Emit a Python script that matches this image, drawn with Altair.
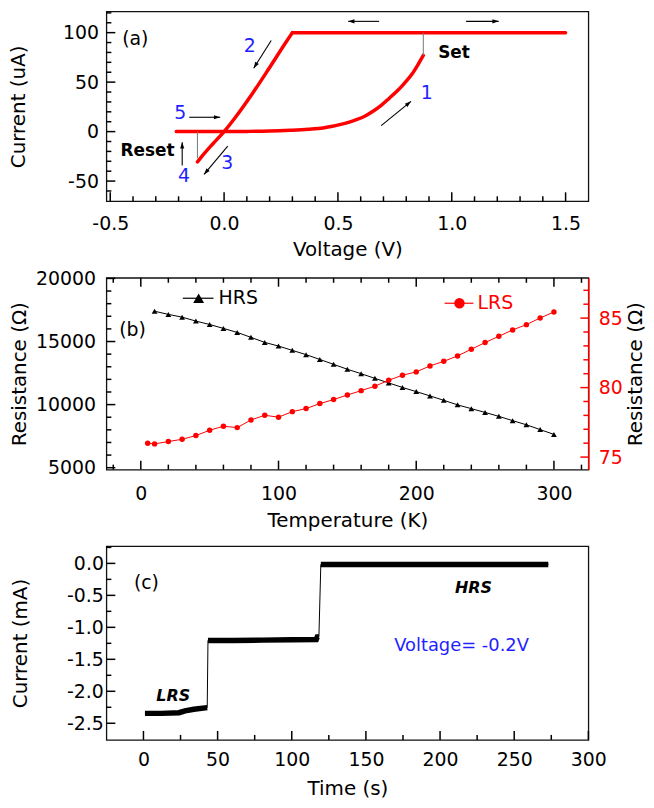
import math
import altair as alt
import pandas as pd

FONT = "DejaVu Sans"
RED = "#ff0000"
BLUE = "#1f1fff"
W = 485
HA, HB, HC = 191, 193, 195

XA = [-0.517, 1.6]
YA = [-70.4, 121.4]
XB = [-25, 325]
YBL = [4850, 20050]
YBR = [74.1, 87.9]
XC = [-25, 300]
YC = [-2.76, 0.27]

# ---------------- panel (a) data ----------------
a_hrs_v = [-0.21, -0.1, 0.0, 0.1, 0.2, 0.29, 0.37, 0.435, 0.47, 0.508, 0.55, 0.581, 0.62,
           0.654, 0.69, 0.727, 0.76, 0.785, 0.80, 0.828, 0.85, 0.875]
a_hrs_i = [0.0, 0.0, 0.0, 0.2, 0.6, 1.4, 2.4, 3.7, 5.1, 7.0, 9.6, 12.0, 15.8,
           20.5, 26.5, 34.0, 41.0, 47.0, 51.0, 59.0, 67.0, 77.0]
a_cc_v = [0.30, 1.50]
a_cc_i = [100.0, 100.0]
a_lrs_v = [0.30, 0.268, 0.195, 0.123, 0.05, 0.0, -0.052, -0.103, -0.117]
a_lrs_i = [100.0, 89.0, 63.0, 38.0, 14.5, 0.0, -13.0, -26.5, -30.5]
a_set_v = [0.875, 0.875]
a_set_i = [77.0, 100.0]
a_reset_v = [-0.117, -0.117]
a_reset_i = [-27.0, 0.0]

a_arrow_x1 = [0.681, 1.063, 0.207, 0.690, -0.153, 0.016, -0.184]
a_arrow_y1 = [111.4, 111.4, 92.0, 6.0, 14.5, -14.7, -34.2]
a_arrow_x2 = [0.545, 1.206, 0.130, 0.821, -0.017, -0.088, -0.184]
a_arrow_y2 = [111.4, 111.4, 64.0, 30.6, 14.5, -43.3, -10.7]

a_num_text = ["1", "2", "3", "4", "5"]
a_num_v = [0.89, 0.113, 0.0135, -0.176, -0.193]
a_num_i = [39.0, 86.5, -31.5, -44.9, 18.8]
a_bold_text = ["Set", "Reset"]
a_bold_v = [1.01, -0.336]
a_bold_i = [79.2, -19.7]

a_x_major = [-0.5, 0.0, 0.5, 1.0, 1.5]
a_x_minor = [-0.4, -0.3, -0.2, -0.1, 0.1, 0.2, 0.3, 0.4, 0.6, 0.7, 0.8, 0.9, 1.1, 1.2, 1.3, 1.4]
a_y_major = [-50, 0, 50, 100]
a_y_minor = [-60, -40, -30, -20, -10, 10, 20, 30, 40, 60, 70, 80, 90, 110, 120]

# ---------------- panel (b) data ----------------
b_t_hrs = [10, 20, 30, 40, 50, 60, 70, 80, 90, 100, 110, 120, 130, 140, 150,
           160, 170, 180, 190, 200, 210, 220, 230, 240, 250, 260, 270, 280, 290, 300]
b_hrs = [17400, 17150, 16930, 16620, 16350, 16040, 15720, 15330, 14930, 14640,
         14300, 13960, 13580, 13190, 12800, 12450, 12080, 11720, 11360, 11030,
         10690, 10340, 9980, 9680, 9380, 9070, 8730, 8400, 8020, 7640]
b_t_lrs = [5, 10, 20, 30, 40, 50, 60, 70, 80, 90, 100, 110, 120, 130, 140, 150,
           160, 170, 180, 190, 200, 210, 220, 230, 240, 250, 260, 270, 280, 290, 300]
b_lrs = [76.0, 75.95, 76.12, 76.28, 76.55, 76.93, 77.22, 77.12, 77.67, 78.01, 77.87,
         78.27, 78.49, 78.85, 79.14, 79.47, 79.78, 80.10, 80.53, 80.89, 81.13,
         81.56, 81.89, 82.28, 82.76, 83.24, 83.69, 84.15, 84.53, 85.01, 85.44]

b_x_major = [0, 100, 200, 300]
b_x_minor = [-20, 20, 40, 60, 80, 120, 140, 160, 180, 220, 240, 260, 280, 320]
b_yl_major = [5000, 10000, 15000, 20000]
b_yl_minor = [6000, 7000, 8000, 9000, 11000, 12000, 13000, 14000, 16000, 17000, 18000, 19000]
b_yr_major = [75, 80, 85]
b_yr_minor = [76, 77, 78, 79, 81, 82, 83, 84, 86, 87]

# ---------------- panel (c) data ----------------
c_lrs_t = [1, 12, 24, 28, 34, 43]
c_lrs_i = [-2.345, -2.345, -2.335, -2.305, -2.28, -2.255]
c_mid_t = [43.5, 60, 80, 100, 116.5, 117.2, 118.3]
c_mid_i = [-1.205, -1.205, -1.20, -1.195, -1.19, -1.15, -1.15]
c_hrs_t = [119.6, 150, 200, 250, 273]
c_hrs_i = [-0.018, -0.018, -0.016, -0.016, -0.018]

c_x_major = [0, 50, 100, 150, 200, 250, 300]
c_x_minor = [25, 75, 125, 175, 225, 275]
c_y_major = [0.0, -0.5, -1.0, -1.5, -2.0, -2.5]
c_y_minor = [0.25, -0.25, -0.75, -1.25, -1.75, -2.25]

HEAD = "M0,0L-0.6,1.8L0.6,1.8Z"
MAJ, MIN = 9, 5


def ex(dom, axis=None, field="x"):
    return alt.X(f"{field}:Q", scale=alt.Scale(domain=dom, nice=False, zero=False), axis=axis)


def ey(dom, axis=None, field="y"):
    return alt.Y(f"{field}:Q", scale=alt.Scale(domain=dom, nice=False, zero=False), axis=axis)


def tick_layer(xdom, ydom, w, h, specs, color="black", sw=1.5):
    """Inward tick marks as short rules placed through the panel's scales."""
    x1s, y1s, x2s, y2s = [], [], [], []
    for vals, side, size in specs:
        for v in vals:
            if side in ("bottom", "top"):
                ln = size * (ydom[1] - ydom[0]) / h
                y0 = ydom[0] if side == "bottom" else ydom[1]
                y1 = y0 + ln if side == "bottom" else y0 - ln
                x1s.append(v); x2s.append(v); y1s.append(y0); y2s.append(y1)
            else:
                ln = size * (xdom[1] - xdom[0]) / w
                x0 = xdom[0] if side == "left" else xdom[1]
                x1 = x0 + ln if side == "left" else x0 - ln
                x1s.append(x0); x2s.append(x1); y1s.append(v); y2s.append(v)
    df = pd.DataFrame({"x": x1s, "y": y1s, "x2": x2s, "y2": y2s})
    return alt.Chart(df).mark_rule(color=color, strokeWidth=sw, opacity=1).encode(
        x=ex(xdom), y=ey(ydom), x2="x2:Q", y2="y2:Q")


def segs_df(segs):
    rows = []
    for name, xs, ys in segs:
        for xv, yv in zip(xs, ys):
            rows.append({"seg": name, "x": xv, "y": yv})
    return pd.DataFrame(rows)


def text_layer(texts, xs, ys, xdom, ydom, **kw):
    df = pd.DataFrame({"t": texts, "x": xs, "y": ys})
    return alt.Chart(df).mark_text(font=FONT, **kw).encode(x=ex(xdom), y=ey(ydom), text="t:N")


def finish(layers, w, h):
    return (alt.layer(*layers)
            .resolve_scale(x="independent", y="independent")
            .resolve_axis(x="independent", y="independent")
            .properties(width=w, height=h))


def main_axis(vals, fmt, orient, lpad, title, tpad, **kw):
    return alt.Axis(values=vals, format=fmt, orient=orient, ticks=False, tickSize=0,
                    domain=False, grid=False, labelPadding=lpad, labelFlush=False,
                    labelOverlap=False, title=title, titlePadding=tpad, **kw)


# ================= panel (a) =================
ax_a_x = main_axis(a_x_major, ".1f", "bottom", 13, "Voltage (V)", 7)
ax_a_y = main_axis(a_y_major, "d", "left", 8, "Current (uA)", 34)

df_red = segs_df([("hrs", a_hrs_v, a_hrs_i), ("cc", a_cc_v, a_cc_i), ("lrs", a_lrs_v, a_lrs_i)])
df_thin = segs_df([("set", a_set_v, a_set_i), ("reset", a_reset_v, a_reset_i)])

a_ticks = tick_layer(XA, YA, W, HA, [(a_x_major, "bottom", MAJ), (a_x_minor, "bottom", MIN),
                                     (a_y_major, "left", MAJ), (a_y_minor, "left", MIN)])
a_red = alt.Chart(df_red).mark_line(color=RED, strokeWidth=3.5, interpolate="monotone",
                                    strokeCap="round").encode(
    x=ex(XA, ax_a_x), y=ey(YA, ax_a_y), detail="seg:N")
a_thin = alt.Chart(df_thin).mark_line(color="#777777", strokeWidth=1).encode(
    x=ex(XA), y=ey(YA), detail="seg:N")

kx = W / (XA[1] - XA[0])
ky = HA / (YA[1] - YA[0])
a_ang = [math.degrees(math.atan2((x2 - x1) * kx, (y2 - y1) * ky)) % 360
         for x1, y1, x2, y2 in zip(a_arrow_x1, a_arrow_y1, a_arrow_x2, a_arrow_y2)]
df_arr = pd.DataFrame({"x": a_arrow_x1, "y": a_arrow_y1, "x2": a_arrow_x2, "y2": a_arrow_y2,
                       "ang": a_ang})
a_arrows = alt.Chart(df_arr).mark_rule(color="black", strokeWidth=1.1).encode(
    x=ex(XA), y=ey(YA), x2="x2:Q", y2="y2:Q")
a_heads = alt.Chart(df_arr).mark_point(shape=HEAD, filled=True, color="black", opacity=1,
                                       size=49, strokeWidth=0).encode(
    x=ex(XA, None, "x2"), y=ey(YA, None, "y2"), angle=alt.Angle("ang:Q", scale=None))
a_nums = text_layer(a_num_text, a_num_v, a_num_i, XA, YA, fontSize=19, color=BLUE,
                    align="center", baseline="middle")
a_bold = text_layer(a_bold_text, a_bold_v, a_bold_i, XA, YA, fontSize=17, fontWeight="bold",
                    color="black", align="center", baseline="middle")
a_lab = text_layer(["(a)"], [-0.39], [93.3], XA, YA, fontSize=19, color="black",
                   align="center", baseline="middle")

pa = finish([a_red, a_thin, a_arrows, a_heads, a_nums, a_bold, a_lab, a_ticks], W, HA)

# ================= panel (b) =================
ax_b_x = main_axis(b_x_major, "d", "bottom", 15, "Temperature (K)", 7)
ax_b_yl = main_axis(b_yl_major, "d", "left", 11, "Resistance (\u03a9)", 6)
ax_b_yr = alt.Axis(values=b_yr_major, format="d", orient="right", ticks=False, tickSize=0,
                   domain=True, domainColor=RED, domainWidth=1.5, grid=False,
                   labelPadding=10, labelFlush=False, labelColor=RED,
                   title="Resistance (\u03a9)", titlePadding=3, titleAngle=270,
                   titleBaseline="top")

df_hrs = pd.DataFrame({"x": b_t_hrs, "y": b_hrs})
df_lrs = pd.DataFrame({"x": b_t_lrs, "y": b_lrs})

b_ticks_l = tick_layer(XB, YBL, W, HB, [(b_x_major, "bottom", MAJ), (b_x_minor, "bottom", MIN),
                                       (b_x_major, "top", MAJ), (b_x_minor, "top", MIN),
                                       (b_yl_major, "left", MAJ), (b_yl_minor, "left", MIN)])
b_ticks_r = tick_layer(XB, YBR, W, HB, [(b_yr_major, "right", MAJ - 1),
                                       (b_yr_minor, "right", MIN)], color=RED)
b_hrs_line = alt.Chart(df_hrs).mark_line(color="black", strokeWidth=1).encode(
    x=ex(XB, ax_b_x), y=ey(YBL, ax_b_yl))
b_hrs_pts = alt.Chart(df_hrs).mark_point(shape="triangle-up", filled=True, color="black",
                                         opacity=1, size=34).encode(x=ex(XB), y=ey(YBL))
b_lrs_line = alt.Chart(df_lrs).mark_line(color=RED, strokeWidth=1).encode(
    x=ex(XB), y=ey(YBR, ax_b_yr))
b_lrs_pts = alt.Chart(df_lrs).mark_point(shape="circle", filled=True, color=RED,
                                         opacity=1, size=30).encode(x=ex(XB), y=ey(YBR))

leg_hrs_line = alt.Chart(pd.DataFrame({"x": [30.5, 52.8], "y": [18430, 18430]})).mark_line(
    color="black", strokeWidth=1.2).encode(x=ex(XB), y=ey(YBL))
leg_hrs_pt = alt.Chart(pd.DataFrame({"x": [42.0], "y": [18430]})).mark_point(
    shape="triangle-up", filled=True, color="black", opacity=1, size=120).encode(
    x=ex(XB), y=ey(YBL))
leg_hrs_txt = text_layer(["HRS"], [56.5], [18430], XB, YBL, fontSize=19, color="black",
                         align="left", baseline="middle")
leg_lrs_line = alt.Chart(pd.DataFrame({"x": [220.6, 241.5], "y": [86.07, 86.07]})).mark_line(
    color=RED, strokeWidth=1.2).encode(x=ex(XB), y=ey(YBR))
leg_lrs_pt = alt.Chart(pd.DataFrame({"x": [231.4], "y": [86.07]})).mark_point(
    shape="circle", filled=True, color=RED, opacity=1, size=110).encode(x=ex(XB), y=ey(YBR))
leg_lrs_txt = text_layer(["LRS"], [244.5], [86.07], XB, YBR, fontSize=19, color=RED,
                         align="left", baseline="middle")
b_lab = text_layer(["(b)"], [-6.0], [15934], XB, YBL, fontSize=19, color="black",
                   align="center", baseline="middle")

pb = finish([b_hrs_line, b_lrs_line, b_hrs_pts, b_lrs_pts,
             leg_hrs_line, leg_hrs_pt, leg_hrs_txt, leg_lrs_line, leg_lrs_pt, leg_lrs_txt,
             b_lab, b_ticks_l, b_ticks_r], W, HB)

# ================= panel (c) =================
ax_c_x = main_axis(c_x_major, "d", "bottom", 11, "Time (s)", 9)
ax_c_y = main_axis(c_y_major, ".1f", "left", 3, "Current (mA)", 36)

df_c = segs_df([("lrs", c_lrs_t, c_lrs_i), ("mid", c_mid_t, c_mid_i), ("hrs", c_hrs_t, c_hrs_i)])
c_ticks = tick_layer(XC, YC, W, HC, [(c_x_major, "bottom", MAJ), (c_x_minor, "bottom", MIN),
                                     (c_y_major, "left", MAJ), (c_y_minor, "left", MIN)])
c_thin = alt.Chart(df_c).mark_line(color="black", strokeWidth=1).encode(
    x=ex(XC, ax_c_x), y=ey(YC, ax_c_y))
c_thick = alt.Chart(df_c).mark_line(color="black", strokeWidth=5.5).encode(
    x=ex(XC), y=ey(YC), detail="seg:N")
c_state = text_layer(["LRS", "HRS"], [20.1, 222.5], [-2.07, -0.38], XC, YC, fontSize=16,
                     fontWeight="bold", fontStyle="italic", color="black",
                     align="center", baseline="middle")
c_volt = text_layer(["Voltage= -0.2V"], [214.5], [-1.3], XC, YC, fontSize=18, color=BLUE,
                    align="center", baseline="middle")
c_lab = text_layer(["(c)"], [2.0], [-0.306], XC, YC, fontSize=19, color="black",
                   align="center", baseline="middle")

pc = finish([c_thin, c_thick, c_state, c_volt, c_lab, c_ticks], W, HC)

chart = (alt.vconcat(pa, pb, pc, spacing=77, bounds="flush")
         .properties(padding=0)
         .configure(locale={"number": {"decimal": ".", "thousands": ",", "grouping": [3],
                                       "currency": ["$", ""], "minus": "-"}})
         .configure_axis(labelFont=FONT, titleFont=FONT, labelFontSize=19, titleFontSize=20,
                         titleFontWeight="normal", labelColor="black", titleColor="black",
                         grid=False)
         .configure_view(stroke="#111111", strokeWidth=1.3))

chart.save("out.html", embed_options={"renderer": "svg", "actions": False})
